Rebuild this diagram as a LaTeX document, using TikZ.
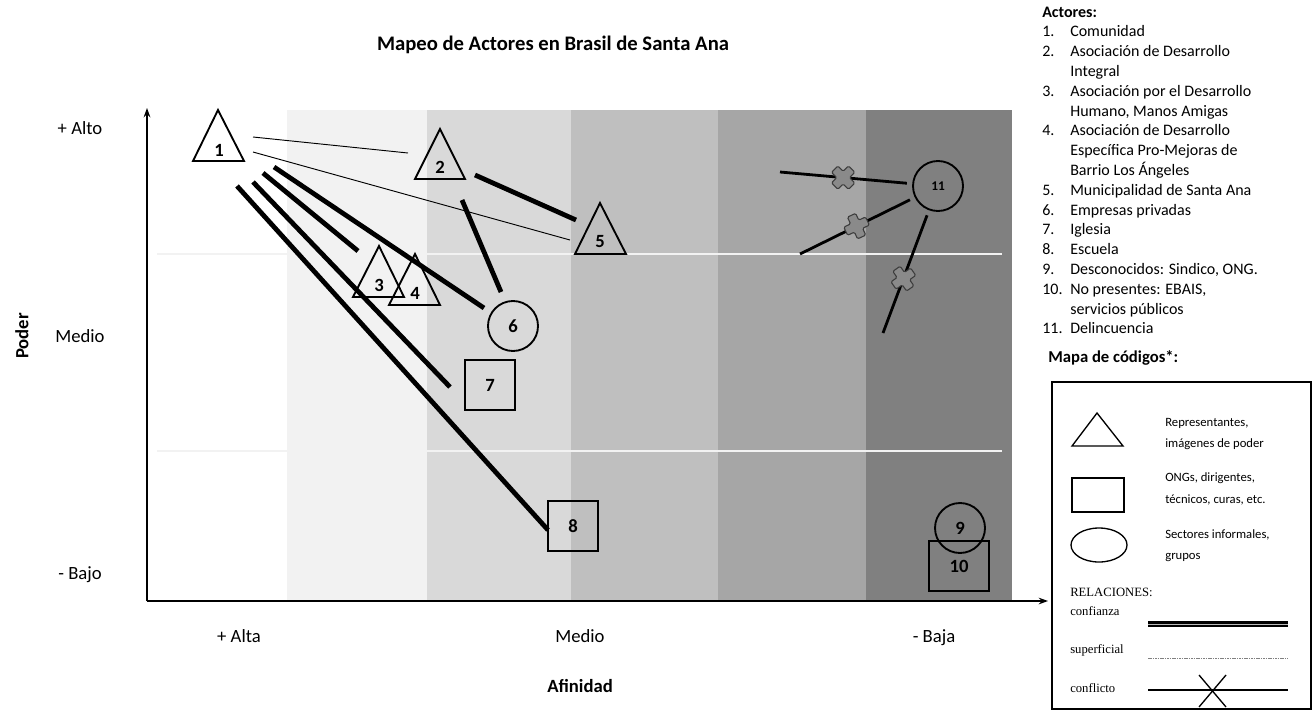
\documentclass[tikz,border=0pt]{standalone}
\usepackage{fontspec}
\setmainfont{Carlito}
\newfontfamily\relfont{Liberation Serif}
\usepackage{xcolor}
\definecolor{bandA}{HTML}{F2F2F2}
\definecolor{bandB}{HTML}{D9D9D9}
\definecolor{bandC}{HTML}{BFBFBF}
\definecolor{bandD}{HTML}{A6A6A6}
\definecolor{bandE}{HTML}{808080}
\definecolor{crossfill}{HTML}{8A8A8A}
\definecolor{crossedge}{HTML}{3C3C3C}
\usepackage{tikz}
\usetikzlibrary{arrows.meta, positioning, shapes, calc}

\tikzset{
  forma/.style={draw, line width=1.4pt, inner sep=0pt},
  cuadro/.style={forma, rectangle, minimum width=37.5pt, minimum height=37.5pt},
  circulo/.style={forma, circle, minimum size=37.5pt},
  num/.style={font=\fontsize{14}{16}\selectfont\bfseries, inner sep=0pt},
  tri/.style={line width=1.4pt, line join=miter},
  confianza/.style={line width=3.6pt},
  superficial/.style={line width=0.7pt},
  conflicto/.style={line width=2.1pt, shorten >=4pt},
  eje/.style={line width=1.5pt, -{Stealth[length=7pt, width=5pt]}},
  etiqueta/.style={font=\fontsize{14}{16}\selectfont, inner sep=0pt, text height=9pt, text depth=3pt},
  titulo/.style={font=\fontsize{14}{16}\selectfont\bfseries, inner sep=0pt},
  leyenda/.style={font=\fontsize{9.5}{16}\selectfont, align=left, inner sep=0pt, anchor=west},
  relacion/.style={font=\relfont\fontsize{9.5}{11}\selectfont, inner sep=0pt, anchor=west},
  cruz/.pic={
    \draw[fill=crossfill, draw=crossedge, line width=0.8pt, rounded corners=1pt]
      (-4.5,-12) -- (4.5,-12) -- (4.5,-4.5) -- (12,-4.5) -- (12,4.5) -- (4.5,4.5)
      -- (4.5,12) -- (-4.5,12) -- (-4.5,4.5) -- (-12,4.5) -- (-12,-4.5) -- (-4.5,-4.5) -- cycle;
  }
}

\begin{document}
\begin{tikzpicture}[x=0.75pt, y=-0.75pt]
  \useasboundingbox (0,0) rectangle (1316,711);

  % Bandas de afinidad
  \fill[bandA] (287,110) rectangle (427,601);
  \fill[bandB] (427,110) rectangle (571,601);
  \fill[bandC] (571,110) rectangle (718,601);
  \fill[bandD] (718,110) rectangle (866,601);
  \fill[bandE] (866,110) rectangle (1012,601);
  \draw[white!95!black, line width=1pt] (157,254) -- (1002,254);
  \draw[white!95!black, line width=1pt] (157,451) -- (1002,451);

  % Ejes
  \coordinate (origen) at (147,601);
  \coordinate (ytop) at (147,108);
  \coordinate (xend) at (1048,601);
  \draw[eje] (origen) -- (ytop);
  \draw[eje] (origen) -- (xend);

  % Titulos y escalas
  \node[font=\fontsize{15.5}{18}\selectfont\bfseries, inner sep=0pt] (titulo) at (553,45) {Mapeo de Actores en Brasil de Santa Ana};
  \node[titulo, rotate=90] (poder) at (22,336) {Poder};
  \node[titulo] (afinidad) at (580,686) {Afinidad};
  \node[etiqueta] (alto) at (80,130) {+ Alto};
  \node[etiqueta] (mediop) at (80,338) {Medio};
  \node[etiqueta] (bajo) at (80,575) {- Bajo};
  \node[etiqueta] (alta) at (239,638) {+ Alta};
  \node[etiqueta] (medioa) at (580,638) {Medio};
  \node[etiqueta] (baja) at (934,638) {- Baja};

  % Triangulos (representantes)
  \draw[tri] (218,110) -- (244,161) -- (193,161) -- cycle;
  \node[num] (n1) at (219,150) {1};
  \draw[tri] (440,129) -- (465,179) -- (415,179) -- cycle;
  \node[num] (n2) at (440,167) {2};
  \draw[tri] (379,246) -- (404,297) -- (353,297) -- cycle;
  \node[num] (n3) at (379,285) {3};
  \draw[tri] (415,254) -- (440,305) -- (389,305) -- cycle;
  \node[num] (n4) at (415,293) {4};
  \draw[tri] (600,203) -- (626,254) -- (575,254) -- cycle;
  \node[num] (n5) at (600,242) {5};

  % Circulos y cuadros
  \node[circulo, num] (n6) at (513,326) {6};
  \node[cuadro, num] (n7) at (490,385) {7};
  \node[cuadro, num] (n8) at (573,526) {8};
  \node[circulo, num] (n9) at (960,528) {9};
  \node[cuadro, num, minimum width=45pt] (n10) at (959,566) {10};
  \node[circulo, num, font=\fontsize{10}{12}\selectfont\bfseries] (n11) at (938,186) {11};

  % Relaciones superficiales
  \coordinate (s1a) at (253,137);
  \coordinate (s2) at (408,153);
  \coordinate (s1b) at (253,152);
  \coordinate (s5) at (570,240);
  \draw[superficial] (s1a) -- (s2);
  \draw[superficial] (s1b) -- (s5);

  % Relaciones de confianza
  \coordinate (c1a) at (237,186);
  \coordinate (c1b) at (253,182);
  \coordinate (c1c) at (263,173);
  \coordinate (c1d) at (274,167);
  \coordinate (c2a) at (462,200);
  \coordinate (c2b) at (475,175);
  \coordinate (c3) at (358,251);
  \coordinate (c5) at (576,220);
  \coordinate (c6a) at (484,308);
  \coordinate (c6b) at (501,292);
  \coordinate (c7) at (450,387);
  \coordinate (c8) at (548,530);
  \draw[confianza] (c1a) -- (c8);
  \draw[confianza] (c1b) -- (c7);
  \draw[confianza] (c1c) -- (c3);
  \draw[confianza] (c1d) -- (c6a);
  \draw[confianza] (c2a) -- (c6b);
  \draw[confianza] (c2b) -- (c5);

  % Conflictos con la delincuencia
  \coordinate (k1) at (780,172);
  \coordinate (k2) at (800,254);
  \coordinate (k3) at (883,333);
  \draw[conflicto] (k1) -- (n11);
  \draw[conflicto] (k2) -- (n11);
  \draw[conflicto] (k3) -- (n11);
  \pic[rotate=45] at ($(k1)!0.40!(n11)$) {cruz};
  \pic[rotate=25] at ($(k2)!0.41!(n11)$) {cruz};
  \pic[rotate=35] at ($(k3)!0.37!(n11)$) {cruz};

  % Lista de actores
  \node[anchor=north west, inner sep=0pt, font=\fontsize{12}{14.85}\selectfont] (actores) at (1042,3) {%
    \begin{tabular}{@{}p{21pt}@{}l@{}}
      \multicolumn{2}{@{}l}{\bfseries Actores:}\\
      1. & Comunidad\\
      2. & Asociación de Desarrollo\\
         & Integral\\
      3. & Asociación por el Desarrollo\\
         & Humano, Manos Amigas\\
      4. & Asociación de Desarrollo\\
         & Específica Pro-Mejoras de\\
         & Barrio Los Ángeles\\
      5. & Municipalidad de Santa Ana\\
      6. & Empresas privadas\\
      7. & Iglesia\\
      8. & Escuela\\
      9. & Desconocidos: Sindico, ONG.\\
      10. & No presentes: EBAIS,\\
         & servicios públicos\\
      11. & Delincuencia
    \end{tabular}};
  \node[anchor=west, inner sep=0pt, font=\fontsize{12.5}{14}\selectfont\bfseries] (mapa) at (1048,358) {Mapa de códigos*:};

  % Mapa de codigos
  \draw[line width=1.2pt] (1052,382) rectangle (1311,709);
  \draw[line width=1pt] (1097,413) -- (1123,446) -- (1072,446) -- cycle;
  \draw[line width=1pt] (1072,478) rectangle (1124,512);
  \draw[line width=1pt] (1099,545) ellipse [x radius=28, y radius=17];
  \node[leyenda] (lrep) at (1165,434) {Representantes,\\imágenes de poder};
  \node[leyenda] (long) at (1165,489) {ONGs, dirigentes,\\técnicos, curas, etc.};
  \node[leyenda] (lsec) at (1165,546) {Sectores informales,\\grupos};
  \node[relacion] (lrel) at (1070,592) {RELACIONES:};
  \node[relacion] (lconf) at (1070,611) {confianza};
  \node[relacion] (lsup) at (1070,650) {superficial};
  \node[relacion] (lconfl) at (1070,688) {conflicto};
  \draw[line width=2.2pt, double=gray!55, double distance=0.7pt] (1148,624) -- (1288,624);
  \draw[gray, line width=0.6pt, dash pattern=on 1.2pt off 0.6pt] (1148,658) -- (1288,658);
  \draw[line width=1pt] (1148,690) -- (1288,690);
  \draw[line width=1pt] (1199,675) -- (1226,707);
  \draw[line width=1pt] (1226,675) -- (1199,707);
\end{tikzpicture}
\end{document}
